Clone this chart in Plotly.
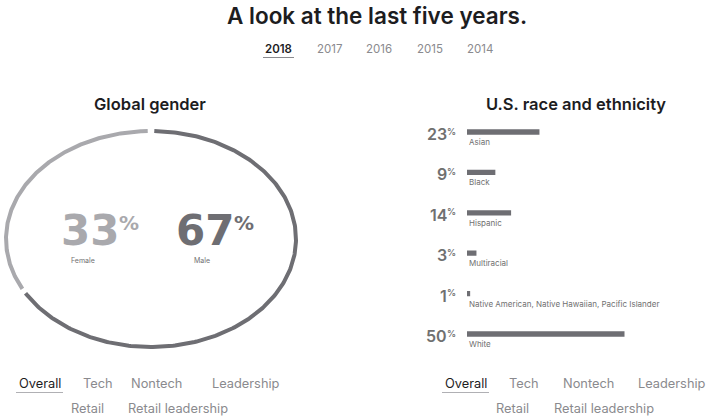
import numpy as np
import plotly.graph_objects as go

# ---------------- data ----------------
title_text = "A look at the last five years."
years = ["2018", "2017", "2016", "2015", "2014"]
gender_title = "Global gender"
gender_labels = ["Male", "Female"]
gender_values = [67, 33]
race_title = "U.S. race and ethnicity"
race_labels = ["Asian", "Black", "Hispanic", "Multiracial",
               "Native American, Native Hawaiian, Pacific Islander", "White"]
race_values = [23, 9, 14, 3, 1, 50]
tabs_row1 = ["Overall", "Tech", "Nontech", "Leadership"]
tabs_row2 = ["Retail", "Retail leadership"]

# ---------------- style ----------------
W, H = 722, 416
FONT = "Inter, 'Open Sans', sans-serif"
WIDE = "'DejaVu Sans', Inter, sans-serif"
DARK = "#1d1d1f"
MALE_C = "#6e6e73"
FEMALE_C = "#a9a9ad"
TAB_GRAY = "#8a8a8e"
BAR_C = "#6e6e73"
LABEL_C = "#707070"


def px(x):
    return x / W


def py(y):
    return 1 - y / H


fig = go.Figure()

# ---------------- donut ring (elliptical) ----------------
gap_deg = 2.6
start = 90.0  # top, going clockwise
total = float(sum(gender_values))
ring_colors = {"Male": MALE_C, "Female": FEMALE_C}
for lab, val in zip(gender_labels, gender_values):
    sweep = 360.0 * val / total
    a0 = start - gap_deg / 2
    a1 = start - sweep + gap_deg / 2
    th = np.radians(np.linspace(a0, a1, 300))
    fig.add_trace(go.Scatter(
        x=np.cos(th), y=np.sin(th), mode="lines",
        line=dict(color=ring_colors[lab], width=4),
        hoverinfo="skip", xaxis="x", yaxis="y", showlegend=False))
    start -= sweep

# ---------------- race bars ----------------
fig.add_trace(go.Bar(
    x=race_values, y=race_labels, orientation="h",
    marker=dict(color=BAR_C, line=dict(width=0)), width=0.13,
    xaxis="x2", yaxis="y2", hoverinfo="skip", showlegend=False))

# ---------------- axes ----------------
cx, cy, rx, ry = 151, 239, 145, 108
xr, yr = 1.03, 1.05
SCALE = 3.15
fig.update_layout(
    xaxis=dict(domain=[px(cx - rx * xr), px(cx + rx * xr)], range=[-xr, xr],
               visible=False, fixedrange=True),
    yaxis=dict(domain=[py(cy + ry * yr), py(cy - ry * yr)], range=[-yr, yr],
               visible=False, fixedrange=True),
    xaxis2=dict(domain=[px(467), px(467 + 60 * SCALE)], range=[0, 60],
                visible=False, fixedrange=True),
    yaxis2=dict(domain=[py(132 + 40.4 * 5 + 20.2), py(132 - 20.2)],
                range=[5.5, -0.5], type="category",
                categoryorder="array", categoryarray=race_labels,
                visible=False, fixedrange=True),
)

ann = []

# title
ann.append(dict(text=title_text, x=px(377), y=py(16), xref="paper", yref="paper",
                showarrow=False, xanchor="center", yanchor="middle",
                font=dict(family=FONT, size=22.5, color=DARK, weight=600)))

# year tabs
year_x = [278, 329, 379, 430, 480]
for i, (yv, xx) in enumerate(zip(years, year_x)):
    ann.append(dict(text=yv, x=px(xx), y=py(49), xref="paper", yref="paper",
                    showarrow=False, xanchor="center", yanchor="middle",
                    font=dict(family=FONT, size=11.5,
                              color=DARK if i == 0 else TAB_GRAY,
                              weight=600 if i == 0 else 400)))

# panel titles
ann.append(dict(text=gender_title, x=px(150), y=py(104), xref="paper", yref="paper",
                showarrow=False, xanchor="center", yanchor="middle",
                font=dict(family=FONT, size=16.5, color=DARK, weight=600)))
ann.append(dict(text=race_title, x=px(576), y=py(104), xref="paper", yref="paper",
                showarrow=False, xanchor="center", yanchor="middle",
                font=dict(family=FONT, size=16.5, color=DARK, weight=600)))

# big gender numbers (digits right-anchored, small % raised beside)
big = {"Female": (118, 83, FEMALE_C), "Male": (233, 202, MALE_C)}
for lab, val in zip(gender_labels, gender_values):
    bx, lx, col = big[lab]
    ann.append(dict(text=str(val), x=px(bx + 2), y=py(229.5),
                    xref="paper", yref="paper", showarrow=False,
                    xanchor="right", yanchor="middle", borderpad=0,
                    height=38, valign="middle",
                    font=dict(family=WIDE, size=42, color=col, weight=700)))
    ann.append(dict(text="%", x=px(bx), y=py(223),
                    xref="paper", yref="paper", showarrow=False,
                    xanchor="left", yanchor="middle", borderpad=0,
                    font=dict(family=WIDE, size=20, color=col, weight=700)))
    ann.append(dict(text=lab, x=px(lx), y=py(260), xref="paper", yref="paper",
                    showarrow=False, xanchor="center", yanchor="middle",
                    borderpad=0,
                    font=dict(family=FONT, size=7, color=LABEL_C)))

# race labels
for lab, val in zip(race_labels, race_values):
    ann.append(dict(text=str(val), x=0, y=lab, xref="x2", yref="y2",
                    xshift=-19, yshift=-2, showarrow=False, borderpad=0,
                    xanchor="right", yanchor="middle",
                    font=dict(family=FONT, size=16, color=LABEL_C, weight=600)))
    ann.append(dict(text="%", x=0, y=lab, xref="x2", yref="y2",
                    xshift=-21, yshift=1, showarrow=False, borderpad=0,
                    xanchor="left", yanchor="middle",
                    font=dict(family=FONT, size=9, color=LABEL_C, weight=600)))
    ann.append(dict(text=lab, x=0, y=lab, xref="x2", yref="y2",
                    yshift=-10, showarrow=False,
                    xanchor="left", yanchor="middle",
                    font=dict(family=FONT, size=8, color=LABEL_C)))

# bottom tabs
row1_left = [40, 98, 156, 246]
row2_left = [87, 178]
row1_right = [466, 524, 588, 672]
row2_right = [512, 604]
for xs1, xs2 in ((row1_left, row2_left), (row1_right, row2_right)):
    for i, (t, xx) in enumerate(zip(tabs_row1, xs1)):
        ann.append(dict(text=t, x=px(xx), y=py(383), xref="paper", yref="paper",
                        showarrow=False, xanchor="center", yanchor="middle",
                        font=dict(family=FONT, size=12.8,
                                  color=DARK if i == 0 else TAB_GRAY)))
    for t, xx in zip(tabs_row2, xs2):
        ann.append(dict(text=t, x=px(xx), y=py(408), xref="paper", yref="paper",
                        showarrow=False, xanchor="center", yanchor="middle",
                        font=dict(family=FONT, size=12.8, color=TAB_GRAY)))

shapes = [
    dict(type="line", xref="paper", yref="paper", x0=px(263), x1=px(294),
         y0=py(57.5), y1=py(57.5), line=dict(color="#8a8a8e", width=1)),
    dict(type="line", xref="paper", yref="paper", x0=px(16), x1=px(63),
         y0=py(392.5), y1=py(392.5), line=dict(color="#b0b0b4", width=1)),
    dict(type="line", xref="paper", yref="paper", x0=px(442), x1=px(489),
         y0=py(392.5), y1=py(392.5), line=dict(color="#b0b0b4", width=1)),
]

fig.update_layout(
    width=W, height=H, autosize=False,
    margin=dict(l=0, r=0, t=0, b=0, pad=0),
    paper_bgcolor="white", plot_bgcolor="white",
    showlegend=False, annotations=ann, shapes=shapes,
    font=dict(family=FONT),
)

fig.write_html("out.html", config={"displayModeBar": False},
               post_script="document.body.style.margin='0';")
